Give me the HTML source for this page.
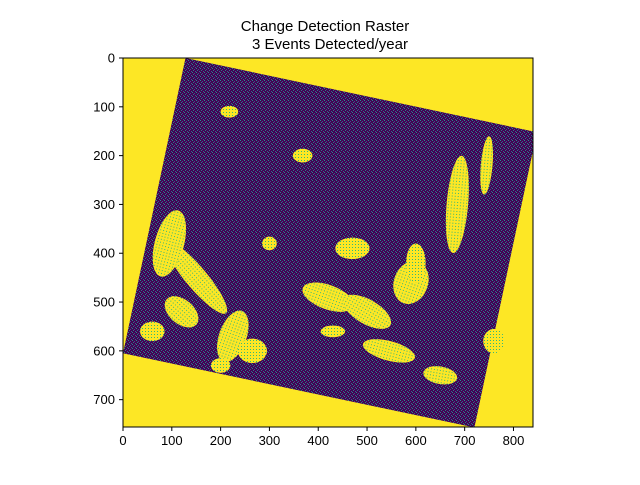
<!DOCTYPE html>
<html><head><meta charset="utf-8">
<style>
body{margin:0;background:#fff;width:640px;height:480px;overflow:hidden;font-family:"Liberation Sans",sans-serif}
</style></head>
<body>
<svg id="chart" width="640" height="480" viewBox="0 0 640 480" xmlns="http://www.w3.org/2000/svg">
<defs>
<pattern id="speckle" width="4" height="4" patternUnits="userSpaceOnUse">
<rect width="4" height="4" fill="#440154"/>
<rect x="0" y="0" width="1" height="1" fill="#21908d"/>
<rect x="2" y="1" width="1" height="1" fill="#3b528b"/>
<rect x="1" y="2" width="1" height="1" fill="#2a788e"/>
<rect x="3" y="3" width="1" height="1" fill="#31688e"/>
</pattern>
<pattern id="yspeckle" width="3" height="3" patternUnits="userSpaceOnUse">
<rect width="3" height="3" fill="#fde725"/>
<rect x="1" y="1" width="1" height="1" fill="#35b779"/>
</pattern>
<clipPath id="axclip"><rect x="123" y="58" width="410" height="369"/></clipPath>
</defs>
<text x="325" y="31" font-size="15" text-anchor="middle" fill="#000">Change Detection Raster</text>
<text x="330" y="49" font-size="15" text-anchor="middle" fill="#000">3 Events Detected/year</text>
<g id="plot" clip-path="url(#axclip)"></g>
<rect x="123" y="58" width="410" height="369" fill="none" stroke="#000" stroke-width="1"/>
<g id="axes"></g>
</svg>
<script>
const xTicks=[0,100,200,300,400,500,600,700,800];
const yTicks=[0,100,200,300,400,500,600,700];
const extentX=[0,840];
const extentY=[0,757];
// scene corners in data coords (top, right, bottom, left)
const sceneX=[128,848,720,0];
const sceneY=[0,152,757,605];
// yellow change blobs: cx, cy, rx, ry, rotation
const blobCx=[150,95,225,265,420,500,470,685,745,368,218,300,590,545,60,120,650,760,200,600,430];
const blobCy=[450,380,570,600,490,520,390,300,220,200,110,380,460,600,560,520,650,580,630,420,560];
const blobRx=[95,30,28,30,55,55,35,22,12,20,18,15,35,55,25,40,35,22,20,20,25];
const blobRy=[22,70,55,25,25,25,22,100,60,14,12,14,45,20,20,25,18,25,15,40,12];
const blobRot=[50,15,20,0,20,30,0,5,5,0,0,0,20,15,0,40,10,0,0,0,0];

const X0=123,Y0=58,S=410/840;
const sx=v=>X0+v*S, sy=v=>Y0+v*S;
const NS="http://www.w3.org/2000/svg";
const plot=document.getElementById('plot'), axes=document.getElementById('axes');
function mk(tag,attrs,parent){const e=document.createElementNS(NS,tag);for(const k in attrs)e.setAttribute(k,attrs[k]);parent.appendChild(e);return e;}

const bg=mk('rect',{x:sx(extentX[0]),y:sy(extentY[0]),width:sx(extentX[1])-sx(extentX[0]),height:sy(extentY[1])-sy(extentY[0])+2,fill:'#fde725'},plot);


const pts=sceneX.map((x,i)=>sx(x)+','+sy(sceneY[i])).join(' ');
const scene=mk('polygon',{points:pts,fill:'url(#speckle)'},plot);


blobCx.forEach((cx,i)=>{
  const e=mk('ellipse',{cx:sx(cx),cy:sy(blobCy[i]),rx:blobRx[i]*S,ry:blobRy[i]*S,fill:'url(#yspeckle)',transform:`rotate(${blobRot[i]} ${sx(cx)} ${sy(blobCy[i])})`},plot);
  
  
});
xTicks.forEach(t=>{
  const x=sx(t);
  const l=mk('line',{x1:x,x2:x,y1:427,y2:431,stroke:'#000'},axes);
  
  
  const tx=mk('text',{x:x,y:445,'font-size':13,'text-anchor':'middle'},axes);
  tx.textContent=t;
  
  
});
yTicks.forEach(t=>{
  const y=sy(t);
  const l=mk('line',{x1:119,x2:123,y1:y,y2:y,stroke:'#000'},axes);
  
  
  const tx=mk('text',{x:115,y:y+4.5,'font-size':13,'text-anchor':'end'},axes);
  tx.textContent=t;
  
  
});
</script>
</body></html>
